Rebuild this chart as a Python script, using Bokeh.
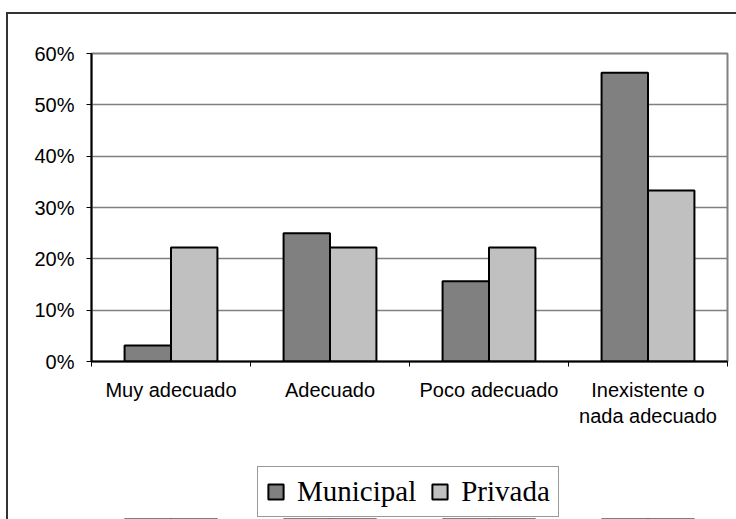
import numpy as np
from bokeh.plotting import figure
from bokeh.layouts import column
from bokeh.models import (ColumnDataSource, Range1d, FixedTicker, NumeralTickFormatter,
                          Legend, LegendItem)
from bokeh.transform import dodge
from bokeh.embed import file_html
from bokeh.resources import INLINE

categories = ["Muy adecuado", "Adecuado", "Poco adecuado", "Inexistente o\nnada adecuado"]
municipal = [0.03125, 0.25, 0.15625, 0.5625]
privada = [0.2222, 0.2222, 0.2222, 0.3333]
y_ticks = [0, 0.1, 0.2, 0.3, 0.4, 0.5, 0.6]
series_names = ["Municipal", "Privada"]
series_colors = ["#808080", "#c0c0c0"]

pos = np.arange(len(categories)) + 0.5
src = ColumnDataSource(dict(x=pos, municipal=municipal, privada=privada))

p = figure(width=736, height=440, output_backend="svg", toolbar_location=None,
           x_range=Range1d(0, len(categories)), y_range=Range1d(0, 0.6),
           min_border_left=91, min_border_right=9, min_border_top=53, min_border_bottom=79)
p.background_fill_color = "white"
p.border_fill_alpha = 0
p.outline_line_color = "#808080"
p.outline_line_width = 2

w = 0.292
r1 = p.vbar(x=dodge("x", -w / 2), top="municipal", width=w, source=src,
            fill_color=series_colors[0], line_color="black", line_width=2)
r2 = p.vbar(x=dodge("x", w / 2), top="privada", width=w, source=src,
            fill_color=series_colors[1], line_color="black", line_width=2)

# x axis
p.xaxis.ticker = FixedTicker(ticks=list(pos), minor_ticks=list(range(len(categories) + 1)))
p.xaxis.major_label_overrides = {float(x): c for x, c in zip(pos, categories)}
p.xaxis.major_tick_line_color = None
p.xaxis.major_tick_out = 0
p.xaxis.major_tick_in = 0
p.xaxis.minor_tick_line_color = "black"
p.xaxis.minor_tick_out = 5
p.xaxis.minor_tick_in = 0
p.xaxis.axis_line_color = "black"
p.xaxis.axis_line_width = 2
p.xaxis.major_label_text_font = "Liberation Sans"
p.xaxis.major_label_text_font_size = "20px"
p.xaxis.major_label_text_color = "black"
p.xaxis.major_label_standoff = 12

# y axis
p.yaxis.ticker = FixedTicker(ticks=y_ticks)
p.yaxis.formatter = NumeralTickFormatter(format="0%")
p.yaxis.major_tick_out = 5
p.yaxis.major_tick_in = 0
p.yaxis.minor_tick_line_color = None
p.yaxis.axis_line_color = "black"
p.yaxis.axis_line_width = 2
p.yaxis.major_tick_line_color = "black"
p.yaxis.major_label_text_font = "Liberation Sans"
p.yaxis.major_label_text_font_size = "20px"
p.yaxis.major_label_text_color = "black"
p.yaxis.major_label_standoff = 12

p.xgrid.grid_line_color = None
p.ygrid.grid_line_color = "#808080"
p.ygrid.grid_line_width = 1.5

# legend strip below the chart (its bars lie far outside its visible range; only the key shows)
lg = figure(width=736, height=79, output_backend="svg", toolbar_location=None,
            x_axis_type=None, y_axis_type=None,
            x_range=Range1d(0, len(categories)), y_range=Range1d(50, 51),
            min_border_left=0, min_border_right=0, min_border_top=0, min_border_bottom=0)
lg.border_fill_alpha = 0
lg.background_fill_alpha = 0
lg.outline_line_color = None
lg.grid.grid_line_color = None
g1 = lg.vbar(x=dodge("x", -w / 2), top="municipal", width=w, source=src,
             fill_color=series_colors[0], line_color="black", line_width=2)
g2 = lg.vbar(x=dodge("x", w / 2), top="privada", width=w, source=src,
             fill_color=series_colors[1], line_color="black", line_width=2)

legend = Legend(items=[LegendItem(label=series_names[0], renderers=[g1]),
                       LegendItem(label=series_names[1], renderers=[g2])],
                orientation="horizontal", location=(166, 2))
legend.label_text_font = "Liberation Serif"
legend.label_text_font_size = "29px"
legend.label_text_color = "black"
legend.glyph_width = 19
legend.glyph_height = 19
legend.label_standoff = 12
legend.spacing = 14
legend.padding = 8
legend.margin = 0
legend.border_line_color = "#333333"
legend.border_line_width = 1
legend.background_fill_color = "white"
legend.background_fill_alpha = 1
lg.add_layout(legend, "center")

layout = column(p, lg, spacing=0)
# outer chart-area frame (left and top edges visible, rest runs off the page)
layout.styles = {
    "background-color": "white",
    "background-image": "linear-gradient(#333333, #333333), linear-gradient(#333333, #333333)",
    "background-position": "6px 12px, 6px 12px",
    "background-size": "2px 100%, 100% 2px",
    "background-repeat": "no-repeat",
}

open("out.html", "w").write(file_html(layout, INLINE))
